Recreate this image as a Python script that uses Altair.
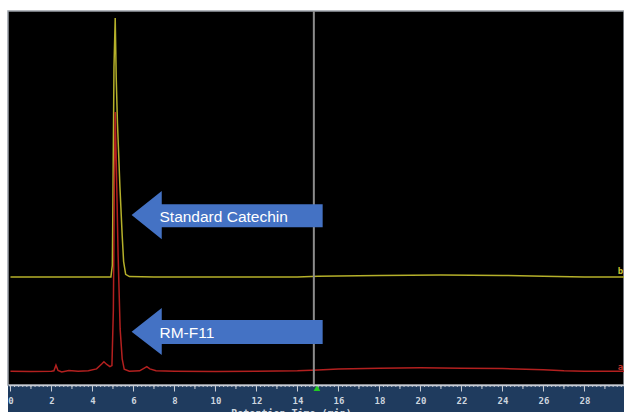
import altair as alt
import pandas as pd
import numpy as np

# ---- data (time in min, arbitrary intensity units) ----
std_time = [0.0, 2.0, 4.0, 4.9, 4.97, 5.0, 5.05, 5.11, 5.16, 5.22, 5.34, 5.45, 5.52, 5.62, 5.8,
            7.0, 10.0, 14.0, 15.0, 18.0, 21.0, 24.0, 26.0, 28.0, 30.0]
std_int = [28.9, 28.9, 28.9, 28.9, 32.0, 50.0, 85.0, 98.1, 82.0, 70.0, 53.0, 40.0, 33.0, 29.6, 29.0,
           28.9, 28.9, 28.9, 29.1, 29.3, 29.4, 29.3, 29.1, 28.9, 28.9]

rm_time = [0.0, 1.0, 2.0, 2.12, 2.22, 2.32, 2.5, 2.85, 3.3, 3.8, 4.2, 4.45, 4.56, 4.7, 4.85, 4.95,
           5.02, 5.07, 5.11, 5.16, 5.25, 5.35, 5.45, 5.55, 5.8, 6.3, 6.55, 6.65, 6.8, 7.1, 8.0,
           10.0, 12.0, 14.0, 15.0, 16.0, 18.0, 20.0, 22.0, 24.0, 26.0, 27.0, 28.0, 30.0]
rm_int = [3.7, 3.6, 3.7, 3.8, 5.3, 3.9, 3.5, 3.9, 3.7, 3.8, 4.3, 5.6, 6.2, 5.5, 4.9, 5.2,
          20.0, 55.0, 73.0, 60.0, 35.0, 15.0, 7.0, 4.2, 3.7, 3.8, 4.6, 4.9, 4.3, 3.8, 3.7,
          3.6, 3.7, 3.8, 4.0, 4.3, 4.5, 4.6, 4.5, 4.4, 4.1, 3.8, 3.7, 3.7]

cursor_time = [14.8]
marker_time = [14.95]
tick_labels = list(range(0, 29, 2))

# arrows (annotation shapes in data units)
arrow_names = ["Standard Catechin"] * 4 + ["RM-F11"] * 4
arrow_t = [5.91, 7.38, 7.381, 15.23, 5.91, 7.38, 7.381, 15.23]
arrow_lo = [45.45, 39.0, 42.2, 42.2, 14.25, 8.0, 10.96, 10.96]
arrow_hi = [45.45, 51.9, 48.3, 48.3, 14.25, 20.6, 17.4, 17.4]
label_text = ["Standard Catechin", "RM-F11"]
label_t = [7.27, 7.27]
label_y = [43.7, 12.5]

trace_tags = ["b", "a"]
trace_tag_y = [30.5, 4.8]
trace_tag_color = ["#c9c230", "#c0302a"]

W, H = 616, 374
xs = alt.Scale(domain=[-0.12, 29.93], nice=False, zero=False)
ys = alt.Scale(domain=[0, 100], nice=False, zero=False)

std_df = pd.DataFrame({"t": std_time, "v": std_int})
rm_df = pd.DataFrame({"t": rm_time, "v": rm_int})
arrow_df = pd.DataFrame({"name": arrow_names, "t": arrow_t, "lo": arrow_lo, "hi": arrow_hi})
lab_df = pd.DataFrame({"text": label_text, "t": label_t, "v": label_y})
tag_df = pd.DataFrame({"text": trace_tags, "t": [29.63, 29.63], "v": trace_tag_y, "c": trace_tag_color})

minor_df = pd.DataFrame({"t": np.round(np.arange(0, 30.0, 0.2), 2)})
mid_df = pd.DataFrame({"t": list(range(0, 30))})

band = alt.Chart(pd.DataFrame({"a": [0]})).mark_rect(color="#1f3b5e").encode(
    x=alt.value(0), x2=alt.value(W), y=alt.value(H), y2=alt.value(H + 27)
)

minor = alt.Chart(minor_df).mark_rule(color="#c8ccd4", strokeWidth=1).encode(
    x=alt.X("t:Q", scale=xs), y=alt.value(H), y2=alt.value(H + 2)
)
mid = alt.Chart(mid_df).mark_rule(color="#c8ccd4", strokeWidth=1).encode(
    x=alt.X("t:Q", scale=xs), y=alt.value(H), y2=alt.value(H + 4)
)

std_line = alt.Chart(std_df).mark_line(color="#b5b02a", strokeWidth=1.5).encode(
    x=alt.X("t:Q", scale=xs,
            axis=alt.Axis(values=tick_labels, tickSize=6, tickColor="#c8ccd4", domainColor="#c8ccd4",
                          domainWidth=1.5, labelColor="#cdd5df", labelFont="DejaVu Sans Mono",
                          labelFontSize=9, labelFontWeight="bold", labelPadding=5, grid=False,
                          title="Retention Time (min)", titleFont="DejaVu Sans Mono",
                          titleFontSize=10, titleFontWeight="bold", titleColor="#cdd5df",
                          titleX=283, titleY=23, titleBaseline="top", titleAlign="center",
                          zindex=1)),
    y=alt.Y("v:Q", scale=ys, axis=None),
)
rm_line = alt.Chart(rm_df).mark_line(color="#b3201f", strokeWidth=1.5).encode(
    x=alt.X("t:Q", scale=xs), y=alt.Y("v:Q", scale=ys)
)

cursor = alt.Chart(pd.DataFrame({"t": cursor_time})).mark_rule(color="#8c8c8c", strokeWidth=2).encode(
    x=alt.X("t:Q", scale=xs)
)

marker = alt.Chart(pd.DataFrame({"t": marker_time})).mark_point(
    shape="triangle-up", filled=True, color="#22cc22", size=45, opacity=1
).encode(x=alt.X("t:Q", scale=xs), y=alt.value(H + 3))

arrows = alt.Chart(arrow_df).mark_area(color="#4472C4", opacity=1).encode(
    x=alt.X("t:Q", scale=xs), y=alt.Y("lo:Q", scale=ys), y2="hi:Q", detail="name:N"
)

labels = alt.Chart(lab_df).mark_text(
    align="left", baseline="alphabetic", color="white", font="Liberation Sans", fontSize=15.5
).encode(x=alt.X("t:Q", scale=xs), y=alt.Y("v:Q", scale=ys), text="text:N")

tags = alt.Chart(tag_df).mark_text(
    align="left", baseline="middle", font="DejaVu Sans Mono", fontSize=9, fontWeight="bold"
).encode(x=alt.X("t:Q", scale=xs), y=alt.Y("v:Q", scale=ys), text="text:N",
         color=alt.Color("c:N", scale=None))

chart = alt.layer(
    band, std_line, minor, mid, rm_line, cursor, arrows, labels, tags, marker
).properties(
    width=W, height=H,
    autosize=alt.AutoSizeParams(type="none"),
    padding={"left": 8, "top": 11, "right": 0, "bottom": 27},
    background="white",
).configure_view(fill="black", stroke="#9aa0a8", strokeWidth=1.5)

chart.save("out.html", embed_options={"renderer": "svg", "actions": False})
